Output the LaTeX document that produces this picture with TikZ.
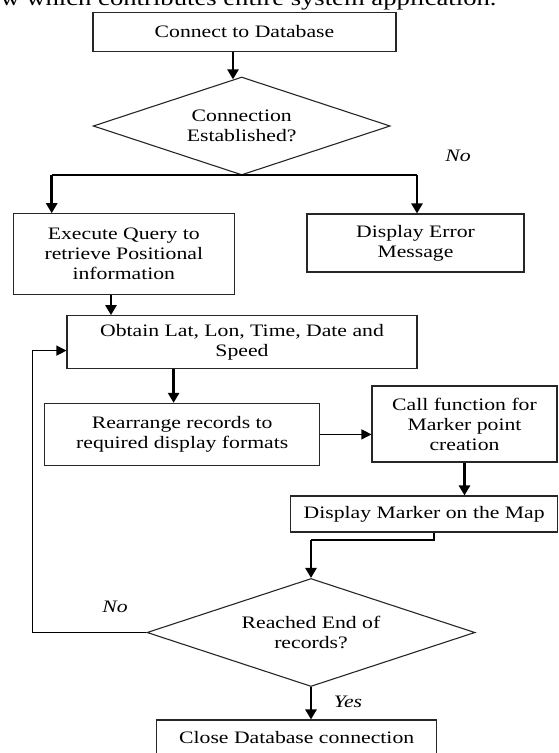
\documentclass[tikz,border=0pt]{standalone}
\usepackage{fontspec}
\setmainfont{Liberation Serif}[FakeStretch=1.24]
\usetikzlibrary{shapes.geometric, arrows.meta, positioning}
\usetikzlibrary{calc}
\tikzstyle{process} = [rectangle, line width=1.1pt, draw=black!85, text centered, align=center, inner sep=0pt]
\tikzstyle{decision} = [diamond, aspect=3, line width=1.1pt, draw=black!85, text centered, align=center, inner sep=0pt]
\tikzstyle{arrow_thick} = [line width=2.6pt, -{Triangle[length=10pt,width=11pt]}]
\tikzstyle{arrow_thin} = [line width=1.2pt, -{Triangle[length=10pt,width=10pt]}]
\tikzstyle{line_thin} = [line width=1.2pt]
\tikzstyle{branch} = [font=\fontsize{17.5}{20}\selectfont\itshape]

\begin{document}
\begin{tikzpicture}[x=1pt, y=-1pt, font=\fontsize{17.5}{20}\selectfont]
	\useasboundingbox (0,0) rectangle (559,753);

		\node (page_text) at (-3,5) [anchor=base west, font=\fontsize{21.5}{24}\selectfont] {w which contributes entire system application.};

		\node (connect_db) at (244.5,32) [process, minimum width=303pt, minimum height=39pt] {Connect to Database};

		\node (connection_ok) at (241.7,126) [decision, minimum width=297pt, minimum height=98pt] {Connection\\Established?};

		\node (execute_query) at (123.8,254) [process, minimum width=220.5pt, minimum height=80.5pt] {Execute Query to\\retrieve Positional\\information};

		\node (error_msg) at (415.5,243) [process, minimum width=217pt, minimum height=58pt] {Display Error\\Message};

		\node (obtain_data) at (242,342) [process, minimum width=350pt, minimum height=52.7pt] {Obtain Lat, Lon, Time, Date and\\Speed};

		\node (rearrange) at (182.2,434.4) [process, minimum width=275pt, minimum height=62pt] {Rearrange records to\\required display formats};

		\node (marker_call) at (464.5,424) [process, minimum width=185pt, minimum height=76pt] {Call function for\\Marker point\\creation};

		\node (marker_display) at (424.2,514) [process, minimum width=267pt, minimum height=36pt] {Display Marker on the Map};

		\node (end_records) at (311,632.5) [decision, minimum width=328pt, minimum height=108pt] {Reached End of\\records?};

		\node (close_db) at (296.7,738) [process, minimum width=280pt, minimum height=36pt] {Close Database connection};

		% Branch labels
		\node (no_error) at (458,156) [branch] {No};
		\node (no_loop) at (115,607) [branch] {No};
		\node (yes_close) at (348,702) [branch] {Yes};

		% Bends of the connectors
		\coordinate (split_left) at (51.7,175);
		\coordinate (split_right) at (417,175);
		\coordinate (loop_back) at (32.3,350.6);
		\coordinate (map_kink) at (434,540);

		% The corresponding rows to connect nodes
		\draw [arrow_thick] ($(connect_db.south)+(-11.5,0)$) -- ($(connection_ok.north)+(-8.7,2.9)$);
		% -
		\draw [line_thin] (split_left) -- (split_right);
		\draw [arrow_thick] (split_left) -- (split_left |- execute_query.north);
		\draw [arrow_thick] (split_right) -- (split_right |- error_msg.north);
		% -
		\draw [arrow_thick] ([xshift=-12.8pt]execute_query.south) -- ([xshift=-12.8pt]execute_query.south |- obtain_data.north);
		\draw [arrow_thick] ([xshift=-8.6pt]rearrange.north |- obtain_data.south) -- ([xshift=-8.6pt]rearrange.north);
		\draw [arrow_thin] (rearrange.east) -- (rearrange.east -| marker_call.west);
		\draw [arrow_thick] (marker_call.south) -- (marker_call.south |- marker_display.north);
		% -
		\draw [line_thin] (marker_display.south -| map_kink) -- (map_kink) -- (map_kink -| end_records.north);
		\draw [arrow_thick] (map_kink -| end_records.north) -- (end_records.north);
		% -
		\draw [arrow_thick] (end_records.south) -- (end_records.south |- close_db.north);
		\draw [arrow_thin] (end_records.west) -| (loop_back) -- (loop_back -| obtain_data.west);

	\end{tikzpicture}
\end{document}
